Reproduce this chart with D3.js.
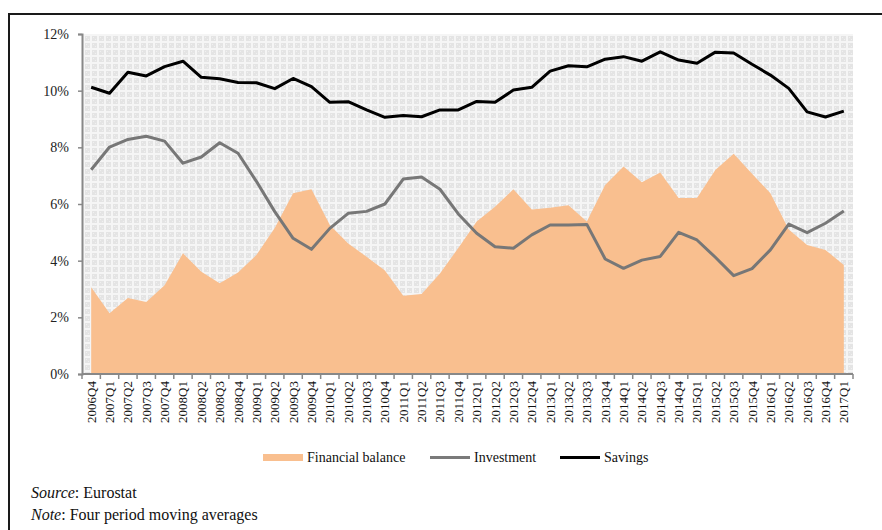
<!DOCTYPE html>
<html>
<head>
<meta charset="utf-8">
<script src="https://cdn.jsdelivr.net/npm/d3@7"></script>
<style>
  body { margin: 0; background: #fff; }
  svg text { font-family: "Liberation Serif", "DejaVu Serif", serif !important; }
</style>
</head>
<body>
<div id="chart"></div>
<script>
// quarters shown on the x axis
const quarters = ["2006Q4",
  "2007Q1","2007Q2","2007Q3","2007Q4",
  "2008Q1","2008Q2","2008Q3","2008Q4",
  "2009Q1","2009Q2","2009Q3","2009Q4",
  "2010Q1","2010Q2","2010Q3","2010Q4",
  "2011Q1","2011Q2","2011Q3","2011Q4",
  "2012Q1","2012Q2","2012Q3","2012Q4",
  "2013Q1","2013Q2","2013Q3","2013Q4",
  "2014Q1","2014Q2","2014Q3","2014Q4",
  "2015Q1","2015Q2","2015Q3","2015Q4",
  "2016Q1","2016Q2","2016Q3","2016Q4",
  "2017Q1"];

// % values, four period moving averages
const financialBalance = [3.06,
  2.14, 2.68, 2.54, 3.13,
  4.26, 3.61, 3.20, 3.58,
  4.20, 5.15, 6.38, 6.52,
  5.26, 4.61, 4.14, 3.65,
  2.76, 2.82, 3.55, 4.45,
  5.38, 5.90, 6.52, 5.81,
  5.87, 5.96, 5.38, 6.67,
  7.32, 6.77, 7.11, 6.21,
  6.21, 7.20, 7.77, 7.07,
  6.38, 5.10, 4.55, 4.38,
  3.85];

const investment = [7.21,
  8.01, 8.28, 8.39, 8.22,
  7.44, 7.66, 8.16, 7.79,
  6.80, 5.73, 4.79, 4.40,
  5.14, 5.67, 5.74, 6.00,
  6.88, 6.95, 6.52, 5.65,
  4.97, 4.49, 4.44, 4.91,
  5.26, 5.26, 5.28, 4.06,
  3.73, 4.02, 4.15, 5.00,
  4.73, 4.12, 3.47, 3.72,
  4.38, 5.29, 4.99, 5.32,
  5.75];

const savings = [10.12,
  9.91, 10.65, 10.52, 10.85,
  11.04, 10.47, 10.42, 10.29,
  10.28, 10.07, 10.43, 10.14,
  9.59, 9.61, 9.32, 9.06,
  9.12, 9.08, 9.32, 9.32,
  9.62, 9.59, 10.02, 10.12,
  10.69, 10.88, 10.84, 11.11,
  11.20, 11.04, 11.37, 11.08,
  10.97, 11.36, 11.33, 10.93,
  10.55, 10.08, 9.25, 9.07,
  9.28];

const yTicks = [0, 2, 4, 6, 8, 10, 12];

const W = 882, H = 530;
const margin = {left: 82, right: 29, top: 34, bottom: 156};

const svg = d3.select("#chart").append("svg")
    .attr("width", W)
    .attr("height", H);

// patterned plot background
const defs = svg.append("defs");
const pat = defs.append("pattern")
    .attr("id", "bgpat")
    .attr("patternUnits", "userSpaceOnUse")
    .attr("width", 7).attr("height", 7);
pat.append("rect").attr("width", 7).attr("height", 7).attr("fill", "#f5f5f5");
pat.append("rect").attr("x", 1).attr("y", 1).attr("width", 5).attr("height", 5).attr("fill", "#e4e4e4");
pat.append("rect").attr("x", 2).attr("y", 2).attr("width", 1).attr("height", 1).attr("fill", "#f0f0f0");
pat.append("rect").attr("x", 4).attr("y", 4).attr("width", 1).attr("height", 1).attr("fill", "#f0f0f0");

// frame lines (top and left)
svg.append("path")
    .attr("d", `M9,${H} L9,14 L${W},14`)
    .attr("fill", "none")
    .attr("stroke", "#1a1a1a")
    .attr("stroke-width", 2);

const x = d3.scaleBand()
    .domain(quarters)
    .range([margin.left, W - margin.right]);

const y = d3.scaleLinear()
    .domain([0, 12])
    .range([H - margin.bottom, margin.top]);

const cx = q => x(q) + x.bandwidth() / 2;

svg.append("rect")
    .attr("x", margin.left)
    .attr("y", margin.top)
    .attr("width", W - margin.left - margin.right)
    .attr("height", H - margin.top - margin.bottom)
    .attr("fill", "url(#bgpat)");

// financial balance area
const area = d3.area()
    .x((d, i) => cx(quarters[i]))
    .y0(y(0))
    .y1(d => y(d));

svg.append("path")
    .datum(financialBalance)
    .attr("d", area)
    .attr("fill", "#f9bf8f");

const line = d3.line()
    .x((d, i) => cx(quarters[i]))
    .y(d => y(d));

svg.append("path")
    .datum(investment)
    .attr("d", line)
    .attr("fill", "none")
    .attr("stroke", "#777")
    .attr("stroke-width", 3)
    .attr("stroke-linejoin", "round");

svg.append("path")
    .datum(savings)
    .attr("d", line)
    .attr("fill", "none")
    .attr("stroke", "#000")
    .attr("stroke-width", 3)
    .attr("stroke-linejoin", "round");

// y axis
const yAxis = svg.append("g")
    .attr("transform", `translate(${margin.left},0)`)
    .call(d3.axisLeft(y).tickValues(yTicks).tickFormat(d => d + "%").tickSize(4).tickPadding(9));
yAxis.select(".domain").attr("stroke", "#888").attr("stroke-width", 2);
yAxis.selectAll(".tick line").attr("stroke", "#888").attr("stroke-width", 1.5);
yAxis.selectAll(".tick text")
    .attr("font-size", 14)
    .attr("fill", "#222");

// x axis: ticks on band edges, labels rotated
const xAxisG = svg.append("g")
    .attr("transform", `translate(0,${y(0)})`);
xAxisG.append("line")
    .attr("x1", margin.left).attr("x2", W - margin.right)
    .attr("stroke", "#888").attr("stroke-width", 2);
const edges = quarters.map(q => x(q)).concat([x(quarters[quarters.length - 1]) + x.bandwidth()]);
xAxisG.selectAll(".etick")
    .data(edges)
    .join("line")
    .attr("class", "etick")
    .attr("x1", d => d).attr("x2", d => d)
    .attr("y1", 0).attr("y2", 5)
    .attr("stroke", "#888").attr("stroke-width", 1.5);
xAxisG.selectAll(".xlab")
    .data(quarters)
    .join("text")
    .attr("class", "xlab")
    .attr("transform", d => `translate(${cx(d) + 4.5},7) rotate(-90)`)
    .attr("text-anchor", "end")
    .attr("font-size", 13)
    .attr("fill", "#111")
    .text(d => d);

// legend
const leg = svg.append("g").attr("font-size", 14).attr("fill", "#111");
leg.append("rect").attr("x", 263).attr("y", 454).attr("width", 40).attr("height", 7).attr("fill", "#f9bf8f");
leg.append("text").attr("x", 307).attr("y", 462).text("Financial balance");
leg.append("line").attr("x1", 430).attr("x2", 470).attr("y1", 457.5).attr("y2", 457.5)
    .attr("stroke", "#7a7a7a").attr("stroke-width", 3);
leg.append("text").attr("x", 474).attr("y", 462).text("Investment");
leg.append("line").attr("x1", 560).attr("x2", 600).attr("y1", 457.5).attr("y2", 457.5)
    .attr("stroke", "#000").attr("stroke-width", 3);
leg.append("text").attr("x", 604).attr("y", 462).text("Savings");

// notes
const notes = svg.append("g").attr("font-size", 16).attr("fill", "#111");
const t1 = notes.append("text").attr("x", 31).attr("y", 498);
t1.append("tspan").attr("font-style", "italic").text("Source");
t1.append("tspan").text(": Eurostat");
const t2 = notes.append("text").attr("x", 31).attr("y", 520);
t2.append("tspan").attr("font-style", "italic").text("Note");
t2.append("tspan").text(": Four period moving averages");
</script>
</body>
</html>
